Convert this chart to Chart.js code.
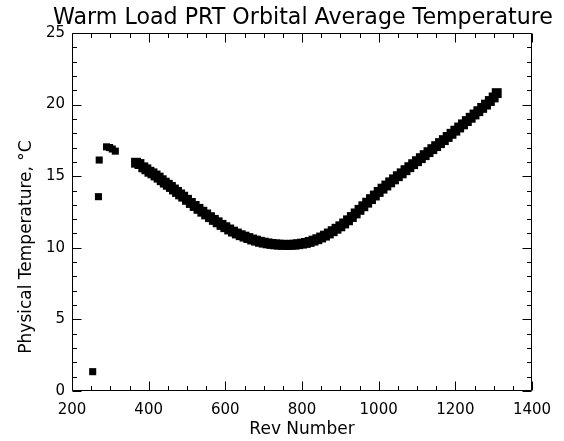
<!DOCTYPE html>
<html><head><meta charset="utf-8">
<script src="https://cdn.jsdelivr.net/npm/chart.js@4.4.1/dist/chart.umd.min.js"></script>
<style>html,body{margin:0;padding:0;background:#fff}canvas{display:block}</style>
</head><body>
<canvas id="c" width="564" height="441"></canvas>
<script>
const chartTitle = 'Warm Load PRT Orbital Average Temperature';
const xAxisTitle = 'Rev Number';
const yAxisTitle = 'Physical Temperature, \u00B0C';
const xTickValues = [200, 400, 600, 800, 1000, 1200, 1400];
const yTickValues = [0, 5, 10, 15, 20, 25];

const revNumbers = [
  254, 269, 271, 290, 298, 305, 313,
  367, 376, 386, 394, 402, 410, 418, 426, 434, 442, 450, 458, 466, 474, 482, 490,
  500, 510, 520, 530, 540, 550, 560, 570, 580, 590, 600, 610, 620, 630, 640, 650,
  660, 670, 680, 690, 700, 710, 720, 730, 740, 750, 760, 770, 780, 790, 800, 810,
  820, 830, 840, 850, 860, 870, 880, 890, 900, 910, 920, 930, 940, 950, 960, 970,
  980, 990, 1000, 1010, 1020, 1030, 1040, 1050, 1060, 1070, 1080, 1090, 1100, 1110,
  1120, 1130, 1140, 1150, 1160, 1170, 1180, 1190, 1200, 1210, 1220, 1230, 1240, 1250,
  1260, 1270, 1280, 1290, 1300, 1308
];
const temperatures = [
  1.35, 13.57, 16.13, 17.05, 17.0, 16.9, 16.75,
  15.94, 15.85, 15.62, 15.48, 15.31, 15.2, 15.05, 14.9, 14.72, 14.55, 14.4, 14.25, 14.07, 13.9, 13.73, 13.57,
  13.35, 13.13, 12.92, 12.72, 12.52, 12.33, 12.14, 11.95, 11.78, 11.6, 11.44, 11.28, 11.13, 11.0, 10.88, 10.78,
  10.68, 10.58, 10.5, 10.42, 10.36, 10.31, 10.27, 10.24, 10.22, 10.21, 10.2, 10.21, 10.22, 10.25, 10.29, 10.34,
  10.41, 10.5, 10.6, 10.72, 10.85, 11.0, 11.16, 11.33, 11.5, 11.7, 11.92, 12.15, 12.4, 12.65, 12.9, 13.15,
  13.4, 13.65, 13.9, 14.13, 14.35, 14.57, 14.78, 15.0, 15.2, 15.42, 15.63, 15.84, 16.05, 16.26,
  16.47, 16.68, 16.89, 17.1, 17.31, 17.52, 17.74, 17.96, 18.18, 18.4, 18.62, 18.85, 19.08, 19.31,
  19.54, 19.77, 20.0, 20.25, 20.5, 20.8
];

const FONT = "'DejaVu Sans', sans-serif";

const framePlugin = {
  id: 'idlFrame',
  afterDraw(chart) {
    const ctx = chart.ctx;
    const a = chart.chartArea;
    const xs = chart.scales.x, ys = chart.scales.y;
    ctx.save();
    ctx.strokeStyle = '#000';
    ctx.lineWidth = 1;
    const L = Math.round(a.left) + 0.5, R = Math.round(a.right) - 0.5;
    const T = Math.round(a.top) + 0.5, B = Math.round(a.bottom) - 0.5;
    ctx.beginPath();
    ctx.rect(L, T, R - L, B - T);
    ctx.stroke();
    ctx.beginPath();
    const major = 9, minor = 4.5;
    for (let v = xs.min; v <= xs.max + 1e-9; v += 50) {
      const px = Math.round(xs.getPixelForValue(v)) + 0.5;
      const len = xTickValues.includes(v) ? major : minor;
      ctx.moveTo(px, B); ctx.lineTo(px, B - len);
      ctx.moveTo(px, T); ctx.lineTo(px, T + len);
    }
    for (let v = ys.min; v <= ys.max + 1e-9; v += 1) {
      const py = Math.round(ys.getPixelForValue(v)) + 0.5;
      const len = yTickValues.includes(v) ? major : minor;
      ctx.moveTo(L, py); ctx.lineTo(L + len, py);
      ctx.moveTo(R, py); ctx.lineTo(R - len, py);
    }
    ctx.stroke();

    // chart title
    ctx.fillStyle = '#000';
    let fs = 22;
    ctx.font = fs + 'px ' + FONT;
    const w = ctx.measureText(chartTitle).width;
    fs = fs * 500 / w;
    ctx.font = fs.toFixed(2) + 'px ' + FONT;
    ctx.textAlign = 'center';
    ctx.textBaseline = 'alphabetic';
    ctx.fillText(chartTitle, 303, 24);

    // y axis title
    ctx.save();
    ctx.translate(31, 247);
    ctx.rotate(-Math.PI / 2);
    ctx.font = '17px ' + FONT;
    ctx.textAlign = 'center';
    ctx.textBaseline = 'alphabetic';
    ctx.fillText(yAxisTitle, 0, 0);
    ctx.restore();
    ctx.restore();
  }
};

new Chart(document.getElementById('c'), {
  type: 'scatter',
  data: {
    datasets: [{
      data: revNumbers.map((r, i) => ({ x: r, y: temperatures[i] })),
      pointStyle: 'rect',
      pointRadius: ctx => (ctx.dataIndex < 7 ? 5 : 7),
      pointBackgroundColor: '#000',
      pointBorderWidth: 0,
      showLine: false
    }]
  },
  options: {
    responsive: false,
    animation: false,
    devicePixelRatio: 1,
    layout: { padding: { left: 0, right: 32, top: 33, bottom: 0 } },
    plugins: { legend: { display: false }, tooltip: { enabled: false }, title: { display: false } },
    scales: {
      x: {
        type: 'linear', min: 200, max: 1400,
        afterBuildTicks: s => { s.ticks = xTickValues.map(v => ({ value: v })); },
        afterFit: s => { s.height = 50; },
        grid: { display: false, drawTicks: false },
        border: { display: false },
        ticks: { color: '#000', font: { family: FONT, size: 15 }, padding: 10, maxRotation: 0, callback: v => String(v) },
        title: { display: true, text: xAxisTitle, color: '#000', font: { family: FONT, size: 17 }, padding: { top: 0, bottom: 1 } }
      },
      y: {
        type: 'linear', min: 0, max: 25,
        afterBuildTicks: s => { s.ticks = yTickValues.map(v => ({ value: v })); },
        afterFit: s => { s.width = 72; },
        grid: { display: false, drawTicks: false },
        border: { display: false },
        ticks: { color: '#000', font: { family: FONT, size: 15 }, padding: 7, callback: v => String(v) }
      }
    }
  },
  plugins: [framePlugin]
});
</script>
</body></html>
